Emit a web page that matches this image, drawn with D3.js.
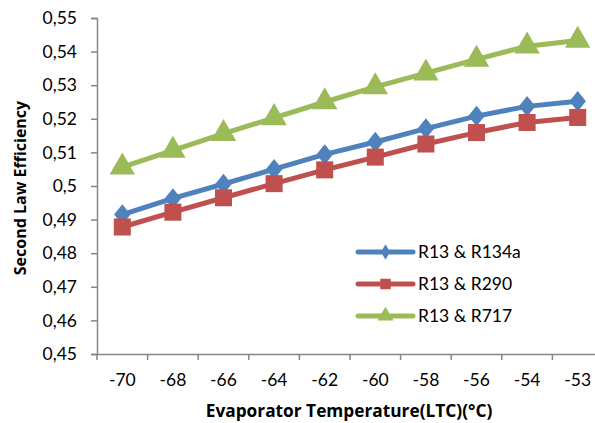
<!DOCTYPE html>
<html><head><meta charset="utf-8">
<script src="https://cdn.jsdelivr.net/npm/d3@7"></script>
<style>body{margin:0;background:#fff}svg{display:block}</style>
</head><body><svg id="c" width="595" height="423"></svg>
<script>
const categories = ["-70","-68","-66","-64","-62","-60","-58","-56","-54","-53"];
const seriesNames = ["R13 & R134a","R13 & R290","R13 & R717"];
const r134a = [0.4915,0.4963,0.5006,0.5050,0.5094,0.5131,0.5171,0.5208,0.5237,0.5252];
const r290  = [0.4878,0.4922,0.4965,0.5007,0.5048,0.5086,0.5125,0.5159,0.5189,0.5204];
const r717  = [0.5056,0.5106,0.5156,0.5203,0.5250,0.5295,0.5336,0.5377,0.5416,0.5433];
const yTicks = [0.45,0.46,0.47,0.48,0.49,0.50,0.51,0.52,0.53,0.54,0.55];
const colors = ["#4F81BD","#C0504D","#9BBB59"];
const shapes = [d3.symbolDiamond, d3.symbolSquare, d3.symbolTriangle];

const svg = d3.select("#c");
const L = 97, R = 603, T = 18, B = 354;
const x = d3.scaleBand().domain(categories).range([L, R]).padding(0);
const y = d3.scaleLinear().domain([0.45, 0.55]).range([B, T]);
const axisColor = "#868686";
const tickFont = "Lato, 'Open Sans', sans-serif";
const titleFont = "'Open Sans', Lato, sans-serif";

// y axis
const ya = svg.append("g").attr("transform", `translate(${L},0)`)
  .call(d3.axisLeft(y).tickValues(yTicks).tickSize(6).tickPadding(14)
    .tickFormat(d => d3.format(".2~f")(d).replace(".", ",")));
ya.select(".domain").attr("stroke", axisColor).attr("stroke-width", 1.5);
ya.selectAll(".tick line").attr("stroke", axisColor).attr("stroke-width", 1.5);
ya.selectAll(".tick text").style("font-size", "17.5px").style("font-family", tickFont).attr("fill", "#000");

// x axis
const xa = svg.append("g").attr("transform", `translate(0,${B})`)
  .call(d3.axisBottom(x).tickSize(0).tickPadding(20));
xa.select(".domain").attr("stroke", axisColor).attr("stroke-width", 1.5);
xa.selectAll(".tick text").style("font-size", "17.5px").style("font-family", tickFont).attr("fill", "#000");
xa.selectAll("line.bt").data(categories).enter().append("line").attr("class","bt")
  .attr("x1", d => x(d)).attr("x2", d => x(d)).attr("y1", 0).attr("y2", 6)
  .attr("stroke", axisColor).attr("stroke-width", 1.5);

// titles
svg.append("text").attr("transform", `translate(26,188) rotate(-90)`)
  .attr("text-anchor", "middle").style("font-weight", "bold").style("font-size", "16px")
  .style("font-family", titleFont).attr("fill", "#000").text("Second Law Efficiency");
svg.append("text").attr("x", 349).attr("y", 417).attr("text-anchor", "middle")
  .style("font-weight", "bold").style("font-size", "17.3px").style("font-family", titleFont)
  .attr("fill", "#000").text("Evaporator Temperature(LTC)(°C)");

const data = [r134a, r290, r717];
const sizes = [150, 290, 280];
const line = d3.line().x((d,i) => x(categories[i]) + x.bandwidth()/2).y(d => y(d));
data.forEach((vals, k) => {
  const g = svg.append("g");
  g.append("path").attr("d", line(vals)).attr("fill", "none")
    .attr("stroke", colors[k]).attr("stroke-width", 5).attr("stroke-linejoin", "round");
  g.selectAll("path.m").data(vals).enter().append("path").attr("class", "m")
    .attr("d", d3.symbol().type(shapes[k]).size(sizes[k]))
    .attr("transform", (d,i) => `translate(${x(categories[i]) + x.bandwidth()/2},${y(d)})${k===0?" scale(1.25,0.9)":""}`)
    .attr("fill", colors[k]);
});

// legend
const lgY = [252, 284, 316];
seriesNames.forEach((name, k) => {
  const g = svg.append("g");
  g.append("line").attr("x1", 358).attr("x2", 413).attr("y1", lgY[k]).attr("y2", lgY[k])
    .attr("stroke", colors[k]).attr("stroke-width", 5).attr("stroke-linecap", "round");
  g.append("path").attr("d", d3.symbol().type(shapes[k]).size(k===0?70:110)())
    .attr("transform", `translate(385.5,${lgY[k]})`).attr("fill", colors[k]);
  g.append("text").attr("x", 418).attr("y", lgY[k] + 6).style("font-size", "17.5px")
    .style("font-family", tickFont).attr("fill", "#000").text(name);
});
</script></body></html>
